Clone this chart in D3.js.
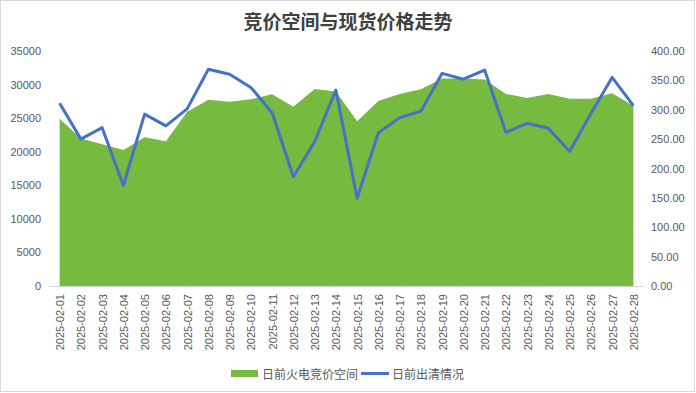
<!DOCTYPE html>
<html>
<head>
<meta charset="utf-8">
<script src="https://cdn.jsdelivr.net/npm/d3@7"></script>
<style>
  body { margin: 0; background: #fff; }
  text { font-family: "Liberation Sans", "Noto Sans CJK SC", sans-serif; }
</style>
</head>
<body>
<svg id="chart" width="696" height="393"></svg>
<script>
'use strict';

// data
var dates = ['2025-02-01','2025-02-02','2025-02-03','2025-02-04','2025-02-05','2025-02-06','2025-02-07',
  '2025-02-08','2025-02-09','2025-02-10','2025-02-11','2025-02-12','2025-02-13','2025-02-14',
  '2025-02-15','2025-02-16','2025-02-17','2025-02-18','2025-02-19','2025-02-20','2025-02-21',
  '2025-02-22','2025-02-23','2025-02-24','2025-02-25','2025-02-26','2025-02-27','2025-02-28'];

// 日前火电竞价空间 (left axis)
var space = [24900, 21950, 21100, 20250, 22150, 21550, 25950, 27750, 27450, 27800, 28550, 26700, 29350, 28950,
  24550, 27550, 28600, 29300, 30900, 30900, 30750, 28600, 28000, 28600, 27900, 27900, 28700, 26850];

// 日前出清情况 (right axis)
var price = [311, 250, 269.5, 171, 292.5, 272.5, 301.5, 369, 360.5, 338, 295, 186, 245.5, 333.5,
  149.5, 261, 286.5, 297.5, 362, 352, 367.5, 261.5, 277, 268.5, 229, 293.5, 355, 307];

var leftTicks = [0, 5000, 10000, 15000, 20000, 25000, 30000, 35000];
var rightTicks = [0, 50, 100, 150, 200, 250, 300, 350, 400];

var svg = d3.select('#chart');
var W = 696, H = 393;
var plotTop = 51, plotBottom = 286, x0 = 49, x1 = 644;

// outer frame
svg.append('rect')
  .attr('x', 0.5).attr('y', 0.5)
  .attr('width', W - 2).attr('height', H - 2)
  .attr('fill', '#fff').attr('stroke', '#d9d9d9');

svg.append('text')
  .attr('x', W / 2).attr('y', 29)
  .attr('text-anchor', 'middle')
  .style('font-family', '"Noto Sans CJK SC", sans-serif')
  .style('font-size', '19px').style('font-weight', 'bold')
  .attr('fill', '#404040')
  .text('竞价空间与现货价格走势');

var x = d3.scalePoint().domain(dates).range([x0, x1]).padding(0.5);
var yL = d3.scaleLinear().domain([0, 35000]).range([plotBottom, plotTop]);
var yR = d3.scaleLinear().domain([0, 400]).range([plotBottom, plotTop]);

// area
var area = d3.area()
  .x(function(d, i) { return x(dates[i]); })
  .y0(yL(0))
  .y1(function(d) { return yL(d); });

svg.append('path')
  .datum(space)
  .attr('d', area)
  .attr('fill', '#76bb40');

// x axis line
svg.append('line')
  .attr('x1', x0).attr('x2', x1)
  .attr('y1', plotBottom + 0.5).attr('y2', plotBottom + 0.5)
  .attr('stroke', '#d9d9d9');

// line
var line = d3.line()
  .x(function(d, i) { return x(dates[i]); })
  .y(function(d) { return yR(d); });

svg.append('path')
  .datum(price)
  .attr('d', line)
  .attr('fill', 'none')
  .attr('stroke', '#4472c4')
  .attr('stroke-width', 3)
  .attr('stroke-linejoin', 'round');

// left axis
var axL = d3.axisLeft(yL).tickValues(leftTicks).tickSize(0).tickPadding(0)
  .tickFormat(d3.format('d'));
var gL = svg.append('g').attr('transform', 'translate(41,0)').call(axL);
gL.select('.domain').remove();
gL.selectAll('text').attr('fill', '#595959').style('font-size', '11px');

// right axis
var axR = d3.axisRight(yR).tickValues(rightTicks).tickSize(0).tickPadding(0)
  .tickFormat(d3.format('.2f'));
var gR = svg.append('g').attr('transform', 'translate(651,0)').call(axR);
gR.select('.domain').remove();
gR.selectAll('text').attr('fill', '#595959').style('font-size', '11px');

// x labels, rotated
var axX = d3.axisBottom(x).tickSize(0).tickPadding(0);
var gX = svg.append('g').attr('transform', 'translate(0,' + plotBottom + ')').call(axX);
gX.select('.domain').remove();
gX.selectAll('text')
  .attr('fill', '#595959').style('font-size', '11px')
  .attr('text-anchor', 'end')
  .attr('transform', 'translate(4,8) rotate(-90)')
  .attr('x', 0).attr('y', 0).attr('dy', 0);

// legend
var lg = svg.append('g');
lg.append('rect').attr('x', 231).attr('y', 370).attr('width', 27).attr('height', 7).attr('fill', '#76bb40');
lg.append('text').attr('x', 262).attr('y', 378.5).attr('fill', '#595959')
  .style('font-family', '"Noto Sans CJK SC", sans-serif').style('font-size', '12px')
  .text('日前火电竞价空间');
lg.append('line').attr('x1', 361).attr('x2', 389).attr('y1', 373.5).attr('y2', 373.5)
  .attr('stroke', '#4472c4').attr('stroke-width', 3);
lg.append('text').attr('x', 392).attr('y', 378.5).attr('fill', '#595959')
  .style('font-family', '"Noto Sans CJK SC", sans-serif').style('font-size', '12px')
  .text('日前出清情况');
</script>
</body>
</html>
